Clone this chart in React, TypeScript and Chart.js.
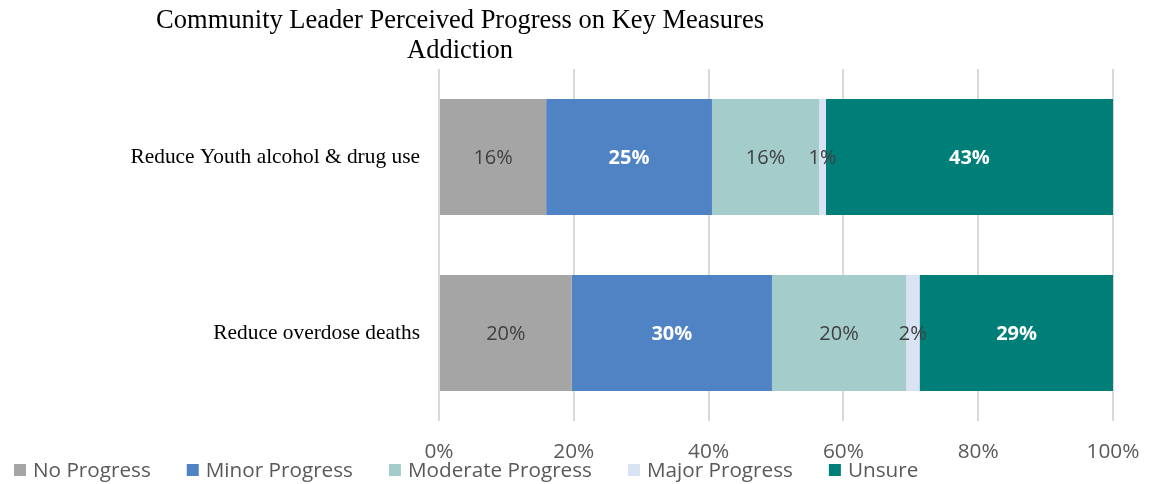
import React, { useEffect, useRef } from "react";
import { Chart, registerables } from "chart.js";

Chart.register(...registerables);

const titleLines = ["Community Leader Perceived Progress on Key Measures", "Addiction"];
const categories = ["Reduce Youth alcohol & drug use", "Reduce overdose deaths"];
const seriesNames = ["No Progress", "Minor Progress", "Moderate Progress", "Major Progress", "Unsure"];
const noProgress = [15.9, 19.7];
const minorProgress = [24.6, 29.7];
const moderateProgress = [15.9, 19.9];
const majorProgress = [1.0, 2.0];
const unsure = [42.6, 28.8];
const xTicks = [0, 20, 40, 60, 80, 100];

const colors = ["#a5a5a5", "#4f83c4", "#a3cccb", "#dae3f3", "#007f79"];
const labelColors = ["#404040", "#ffffff", "#404040", "#404040", "#ffffff"];
const labelBold = [false, true, false, false, true];

const SANS = "'Open Sans', sans-serif";
const SERIF = "'Liberation Serif', 'Times New Roman', serif";

const titlePlugin = {
  id: "customTitle",
  afterDraw(chart: any) {
    const ctx = chart.ctx;
    ctx.save();
    ctx.font = `26.5px ${SERIF}`;
    ctx.fillStyle = "#000000";
    ctx.textAlign = "center";
    ctx.textBaseline = "middle";
    const cx = chart.width * 0.399;
    ctx.fillText(titleLines[0], cx, 21);
    ctx.fillText(titleLines[1], cx, 51);
    ctx.restore();
  },
};

const legendPlugin = {
  id: "customLegend",
  afterDraw(chart: any) {
    const ctx = chart.ctx;
    ctx.save();
    ctx.font = `20.7px ${SANS}`;
    ctx.textAlign = "left";
    ctx.textBaseline = "middle";
    const cy = 470;
    let x = 14;
    chart.data.datasets.forEach((ds: any) => {
      ctx.fillStyle = ds.backgroundColor;
      ctx.fillRect(x, cy - 6, 12, 12);
      x += 19;
      ctx.fillStyle = "#595959";
      ctx.fillText(ds.label, x, cy + 1);
      x += ctx.measureText(ds.label).width + 36;
    });
    ctx.restore();
  },
};

const dataLabelPlugin = {
  id: "dataLabels",
  afterDatasetsDraw(chart: any) {
    const ctx = chart.ctx;
    ctx.save();
    ctx.textAlign = "center";
    ctx.textBaseline = "middle";
    chart.data.datasets.forEach((ds: any, di: number) => {
      const meta = chart.getDatasetMeta(di);
      meta.data.forEach((el: any, i: number) => {
        const v = ds.data[i];
        const { x, y, base } = el.getProps(["x", "y", "base"], true);
        ctx.font = `${labelBold[di] ? "bold " : ""}20px ${SANS}`;
        ctx.fillStyle = labelColors[di];
        ctx.fillText(Math.round(v) + "%", (x + base) / 2, y + 1);
      });
    });
    ctx.restore();
  },
};

export default function App() {
  const ref = useRef<HTMLCanvasElement | null>(null);
  useEffect(() => {
    if (!ref.current) return;
    const data = [noProgress, minorProgress, moderateProgress, majorProgress, unsure];
    const chart = new Chart(ref.current, {
      type: "bar",
      data: {
        labels: categories,
        datasets: seriesNames.map((name, i) => ({
          label: name,
          data: data[i],
          backgroundColor: colors[i],
          borderWidth: 0,
          barPercentage: 0.66,
          categoryPercentage: 1,
        })),
      },
      options: {
        indexAxis: "y",
        animation: false,
        responsive: false,
        maintainAspectRatio: false,
        layout: { padding: { top: 69, left: 0, right: 40, bottom: 20 } },
        plugins: {
          title: { display: false },
          tooltip: { enabled: false },
          legend: { display: false },
        },
        scales: {
          x: {
            stacked: true,
            min: 0,
            max: 100,
            afterBuildTicks: (s: any) => {
              s.ticks = xTicks.map((v) => ({ value: v }));
            },
            afterFit: (s: any) => {
              s.height = 43;
              s.paddingLeft = 0;
              s.paddingRight = 0;
            },
            grid: { color: "#d9d9d9", lineWidth: 2, drawTicks: false },
            border: { display: false },
            ticks: {
              padding: 19,
              color: "#595959",
              font: { family: SANS, size: 20.8 },
              maxRotation: 0,
              callback: (v: any) => v + "%",
            },
          },
          y: {
            stacked: true,
            afterFit: (s: any) => {
              s.width = 439;
            },
            grid: { display: false, drawTicks: false },
            border: { display: false },
            ticks: {
              padding: 19,
              color: "#000000",
              font: { family: SERIF, size: 21.4 },
            },
          },
        },
      },
      plugins: [dataLabelPlugin, titlePlugin, legendPlugin],
    } as any);
    return () => chart.destroy();
  }, []);
  return (
    <div style={{ position: "fixed", left: 0, top: 0, width: 1153, height: 484, background: "#fff" }}>
      <canvas ref={ref} width={1153} height={484} style={{ width: 1153, height: 484 }} />
    </div>
  );
}
